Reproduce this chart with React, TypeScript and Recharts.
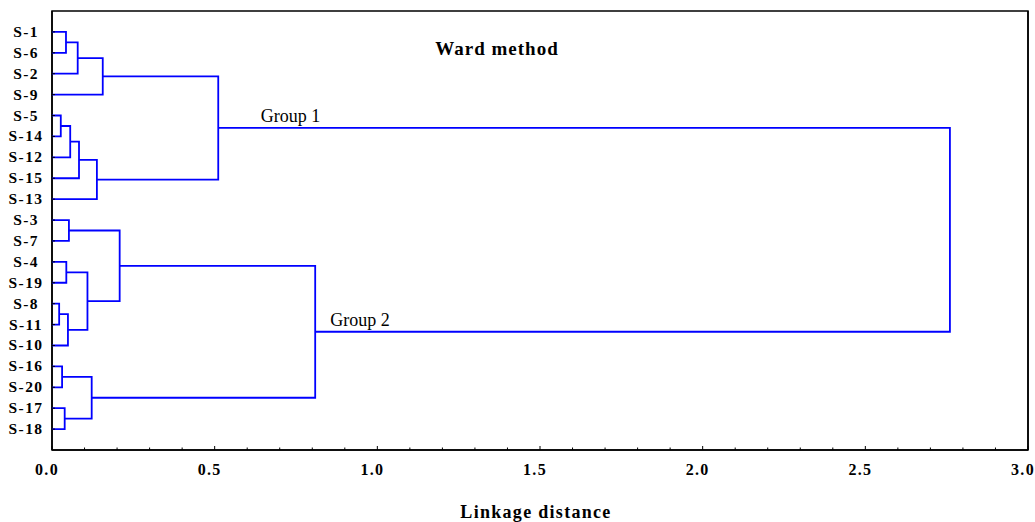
import React from 'react';
import { ScatterChart, Scatter, XAxis, YAxis, ReferenceArea, ReferenceDot, Label } from 'recharts';

// Leaves in dendrogram order (top to bottom)
const leafLabels = ['S-1', 'S-6', 'S-2', 'S-9', 'S-5', 'S-14', 'S-12', 'S-15', 'S-13', 'S-3', 'S-7', 'S-4', 'S-19', 'S-8', 'S-11', 'S-10', 'S-16', 'S-20', 'S-17', 'S-18'];

// Merge steps (Ward linkage)
const mergeNames = ['C1', 'C2', 'C3', 'C4', 'C5', 'C6', 'C7', 'C8', 'C9', 'C10', 'C11', 'C12', 'C13', 'C14', 'C15', 'C16', 'C17', 'C18', 'C19'];
const mergeLeft = ['S-8', 'S-5', 'S-16', 'S-17', 'S-1', 'S-4', 'C1', 'S-3', 'C2', 'C5', 'C9', 'C6', 'C3', 'C11', 'C10', 'C8', 'C15', 'C16', 'C17'];
const mergeRight = ['S-11', 'S-14', 'S-20', 'S-18', 'S-6', 'S-19', 'S-10', 'S-7', 'S-12', 'S-2', 'S-15', 'C7', 'C4', 'S-13', 'S-9', 'C12', 'C14', 'C13', 'C18'];
const mergeHeight = [0.022, 0.027, 0.031, 0.039, 0.043, 0.044, 0.049, 0.052, 0.056, 0.079, 0.083, 0.109, 0.122, 0.138, 0.156, 0.208, 0.511, 0.809, 2.76];

const xTicks = [0, 0.1, 0.2, 0.3, 0.4, 0.5, 0.6, 0.7, 0.8, 0.9, 1.0, 1.1, 1.2, 1.3, 1.4, 1.5, 1.6, 1.7, 1.8, 1.9, 2.0, 2.1, 2.2, 2.3, 2.4, 2.5, 2.6, 2.7, 2.8, 2.9, 3.0];
const xTickLabels = ['0.0', '0.5', '1.0', '1.5', '2.0', '2.5', '3.0'];

const groupLabels = ['Group 1', 'Group 2'];
const groupNodes = ['C17', 'C18'];
const groupLabelX = [0.642, 0.855];

const title = 'Ward method';
const xTitle = 'Linkage distance';

// Build dendrogram link polylines from the arrays above
const pos: Record<string, { x: number; y: number }> = {};
leafLabels.forEach((l, i) => {
  pos[l] = { x: 0, y: i + 1 };
});
const links: { x: number; y: number }[][] = [];
mergeNames.forEach((name, k) => {
  const a = pos[mergeLeft[k]];
  const b = pos[mergeRight[k]];
  const h = mergeHeight[k];
  links.push([
    { x: a.x, y: a.y },
    { x: h, y: a.y },
    { x: h, y: b.y },
    { x: b.x, y: b.y },
  ]);
  pos[name] = { x: h, y: (a.y + b.y) / 2 };
});
const yTicks = leafLabels.map((_, i) => i + 1);

const FONT = '"Liberation Serif", "Times New Roman", serif';
const BLUE = '#0000ff';

const XTick = (props: any) => {
  const { x, y, payload } = props;
  const v = payload.value as number;
  const idx = Math.round(v * 2);
  const major = Math.abs(v * 2 - idx) < 1e-6;
  return (
    <g>
      <line x1={x} x2={x} y1={y} y2={y - (major ? 4 : 2.5)} stroke="#000" strokeWidth={1} />
      {major && (
        <text x={x - 5} y={y + 25} textAnchor="middle" fontFamily={FONT} fontWeight="bold" fontSize={16} letterSpacing={1.3} fill="#000">
          {xTickLabels[idx]}
        </text>
      )}
    </g>
  );
};

const YTickLeft = (props: any) => {
  const { x, y, payload } = props;
  const v = payload.value as number;
  return (
    <g>
      <line x1={x} x2={x + 3} y1={y} y2={y} stroke="#000" strokeWidth={1} />
      <text x={x - 26} y={y + 5} textAnchor="middle" fontFamily={FONT} fontWeight="bold" fontSize={15.5} letterSpacing={1.4} fill="#000">
        {leafLabels[v - 1]}
      </text>
    </g>
  );
};

const YTickRight = (props: any) => {
  const { x, y } = props;
  return <line x1={x} x2={x - 3} y1={y} y2={y} stroke="#000" strokeWidth={1} />;
};

const NoShape = () => <g />;

const groupLabelContent = (text: string) => (p: any) => {
  const vb = p.viewBox || {};
  const cx = (vb.x ?? 0) + (vb.width ?? 0) / 2;
  const cy = (vb.y ?? 0) + (vb.height ?? 0) / 2;
  return (
    <text x={cx} y={cy - 6} fontFamily={FONT} fontSize={18} fill="#000">
      {text}
    </text>
  );
};

export default function App() {
  return (
    <div style={{ width: 1035, height: 522, padding: '8px 0 0 8px', boxSizing: 'border-box', overflow: 'hidden' }}>
      <style>{'html,body{margin:0;padding:0;overflow:hidden;}'}</style>
      <div style={{ position: 'relative', width: 1027, height: 514 }}>
        <ScatterChart width={1027} height={514} margin={{ top: 3, right: 0, bottom: 0, left: 0 }}>
          <XAxis
            xAxisId="x"
            type="number"
            dataKey="x"
            domain={[0, 3]}
            ticks={xTicks}
            interval={0}
            height={72}
            tickSize={0}
            tickMargin={0}
            tickLine={false}
            tick={<XTick />}
            axisLine={{ stroke: '#000', strokeWidth: 1.5 }}
          >
            <Label
              content={(p: any) => {
                const vb = p.viewBox || {};
                return (
                  <text x={vb.x + vb.width / 2 - 4} y={vb.y + 68} textAnchor="middle" fontFamily={FONT} fontWeight="bold" fontSize={18} letterSpacing={1.3} fill="#000">
                    {xTitle}
                  </text>
                );
              }}
            />
          </XAxis>
          <YAxis
            yAxisId="left"
            type="number"
            dataKey="y"
            domain={[0, 21]}
            reversed
            ticks={yTicks}
            interval={0}
            width={44}
            tickSize={0}
            tickMargin={0}
            tickLine={false}
            tick={<YTickLeft />}
            axisLine={{ stroke: '#000', strokeWidth: 1.5 }}
          />
          <YAxis
            yAxisId="right"
            orientation="right"
            type="number"
            domain={[0, 21]}
            reversed
            ticks={yTicks}
            interval={0}
            width={7}
            tickSize={0}
            tickMargin={0}
            tickLine={false}
            tick={<YTickRight />}
            axisLine={{ stroke: '#000', strokeWidth: 1.5 }}
          />
          <ReferenceArea xAxisId="x" yAxisId="left" x1={0} x2={3} y1={0} y2={21} fill="none" stroke="#000" strokeWidth={1.5} />
          {links.map((pts, i) => (
            <Scatter
              key={i}
              xAxisId="x"
              yAxisId="left"
              data={pts}
              line={{ stroke: BLUE, strokeWidth: 1.8 }}
              lineJointType="linear"
              shape={<NoShape />}
              fill="none"
              isAnimationActive={false}
            />
          ))}
          {groupLabels.map((g, i) => (
            <ReferenceDot
              key={g}
              xAxisId="x"
              yAxisId="left"
              x={groupLabelX[i]}
              y={pos[groupNodes[i]].y}
              r={1}
              fill="none"
              stroke="none"
              label={groupLabelContent(g)}
            />
          ))}
        </ScatterChart>
        <svg width={1027} height={514} style={{ position: 'absolute', left: 0, top: 0, pointerEvents: 'none' }}>
          <text x={489} y={47} textAnchor="middle" fontFamily={FONT} fontWeight="bold" fontSize={19} letterSpacing={1} fill="#000">
            {title}
          </text>
        </svg>
      </div>
    </div>
  );
}
